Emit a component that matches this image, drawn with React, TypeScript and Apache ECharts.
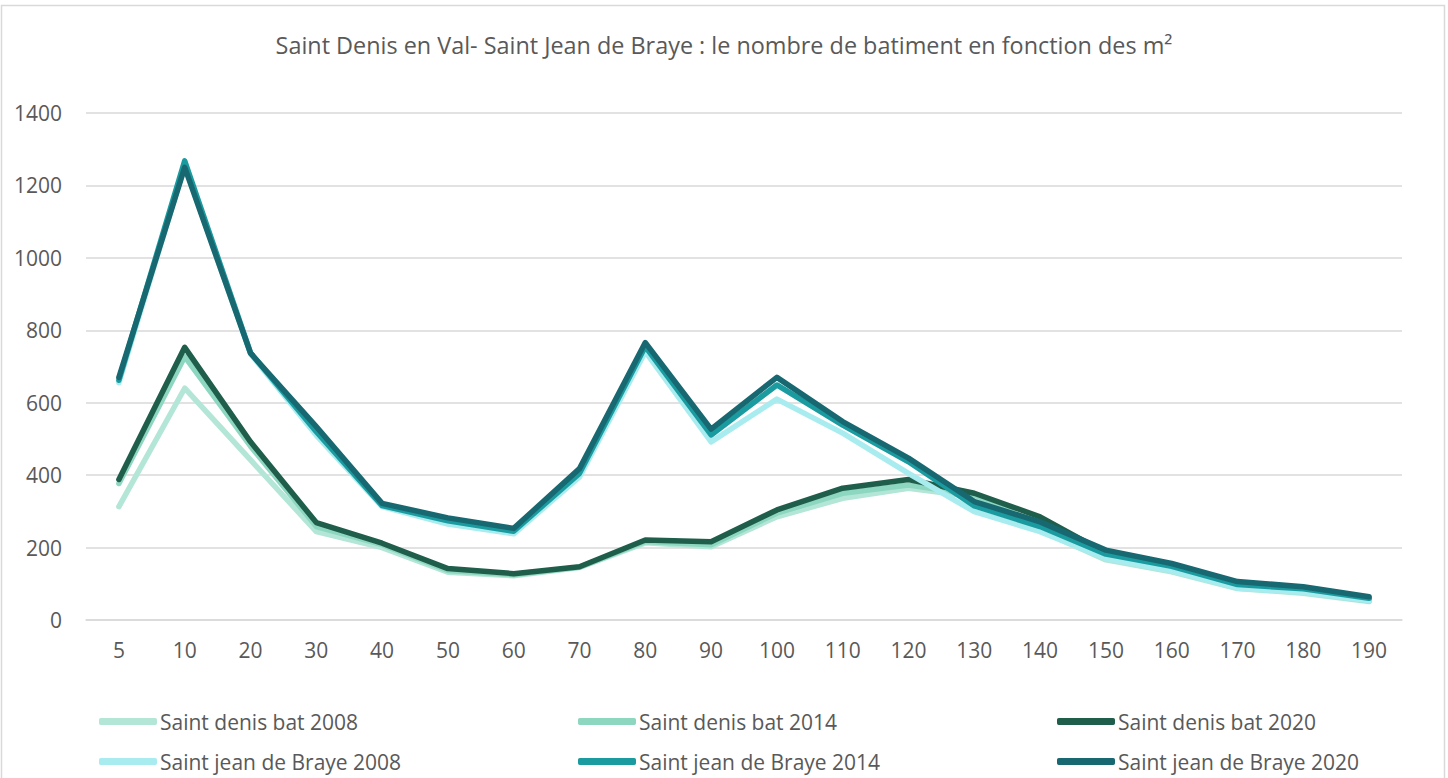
import React, { useEffect, useRef } from "react";
import * as echarts from "echarts";

const categories = ["5", "10", "20", "30", "40", "50", "60", "70", "80", "90", "100", "110", "120", "130", "140", "150", "160", "170", "180", "190"];

const sdBat2008 = [313, 640, 442, 244, 200, 132, 122, 145, 213, 202, 285, 336, 364, 340, 248, 166, 133, 87, 74, 51];
const sdBat2014 = [377, 727, 480, 258, 208, 137, 125, 146, 217, 208, 295, 350, 373, 346, 262, 172, 138, 90, 77, 53];
const sdBat2020 = [388, 753, 492, 269, 212, 142, 128, 147, 221, 216, 304, 364, 388, 350, 285, 185, 150, 98, 80, 58];
const sjBraye2008 = [655, 1255, 735, 510, 313, 265, 238, 395, 741, 492, 610, 516, 405, 299, 244, 170, 136, 88, 76, 53];
const sjBraye2014 = [662, 1268, 738, 520, 316, 274, 245, 405, 755, 511, 649, 538, 437, 315, 258, 182, 148, 98, 86, 60];
const sjBraye2020 = [670, 1250, 737, 534, 322, 282, 253, 418, 766, 527, 670, 548, 447, 327, 271, 193, 156, 106, 92, 64];

const seriesNames = [
  "Saint denis bat 2008",
  "Saint denis bat 2014",
  "Saint denis bat 2020",
  "Saint jean de Braye 2008",
  "Saint jean de Braye 2014",
  "Saint jean de Braye 2020",
];
const seriesData = [sdBat2008, sdBat2014, sdBat2020, sjBraye2008, sjBraye2014, sjBraye2020];
const colors = ["#B3E6D6", "#8DD6C0", "#1F5E4B", "#A8ECEF", "#1A9BA0", "#176870"];

const FONT = "'Open Sans', sans-serif";
const TEXT = "#595959";

export default function App() {
  const ref = useRef<HTMLDivElement>(null);
  useEffect(() => {
    if (!ref.current) return;
    const chart = echarts.init(ref.current, null, { renderer: "svg" });
    const legendPos = [
      { left: 94, top: 706 },
      { left: 573, top: 706 },
      { left: 1052, top: 706 },
      { left: 94, top: 746 },
      { left: 573, top: 746 },
      { left: 1052, top: 746 },
    ];
    chart.setOption({
      animation: false,
      backgroundColor: "#ffffff",
      color: colors,
      title: {
        text: "Saint Denis en Val- Saint Jean de Braye : le nombre de batiment en fonction des m²",
        left: "center",
        top: 28,
        textStyle: { color: TEXT, fontFamily: FONT, fontSize: 23.4, fontWeight: "normal" },
      },
      graphic: [
        {
          type: "rect",
          shape: { x: 1.5, y: 5.5, width: 1443, height: 790 },
          style: { fill: "none", stroke: "#D9D9D9", lineWidth: 1.5 },
          silent: true,
        },
      ],
      legend: seriesNames.map((n, i) => ({
        data: [n],
        left: legendPos[i].left,
        top: legendPos[i].top,
        icon: "roundRect",
        itemWidth: 58,
        itemHeight: 7,
        itemGap: 0,
        selectedMode: false,
        textStyle: { color: TEXT, fontFamily: FONT, fontSize: 21, padding: [0, 0, 0, -2] },
      })),
      grid: { left: 86, right: 46, top: 113, bottom: 158, containLabel: false },
      xAxis: {
        type: "category",
        data: categories,
        boundaryGap: true,
        axisLine: { show: true, lineStyle: { color: "#D9D9D9", width: 1.5 } },
        axisTick: { show: false },
        axisLabel: { color: TEXT, fontFamily: FONT, fontSize: 21, margin: 19 },
      },
      yAxis: {
        type: "value",
        min: 0,
        max: 1400,
        interval: 200,
        axisLine: { show: false },
        axisTick: { show: false },
        axisLabel: { color: TEXT, fontFamily: FONT, fontSize: 21, margin: 24, formatter: (v: number) => String(v) },
        splitLine: { lineStyle: { color: "#D9D9D9", width: 1.5 } },
      },
      series: seriesNames.map((n, i) => ({
        name: n,
        type: "line",
        data: seriesData[i],
        showSymbol: false,
        symbol: "none",
        lineStyle: { width: 5.5, color: colors[i], cap: "round", join: "round" },
        itemStyle: { color: colors[i] },
      })),
    });
    return () => chart.dispose();
  }, []);
  return <div ref={ref} style={{ position: "absolute", left: 0, top: 0, width: 1448, height: 778 }} />;
}
